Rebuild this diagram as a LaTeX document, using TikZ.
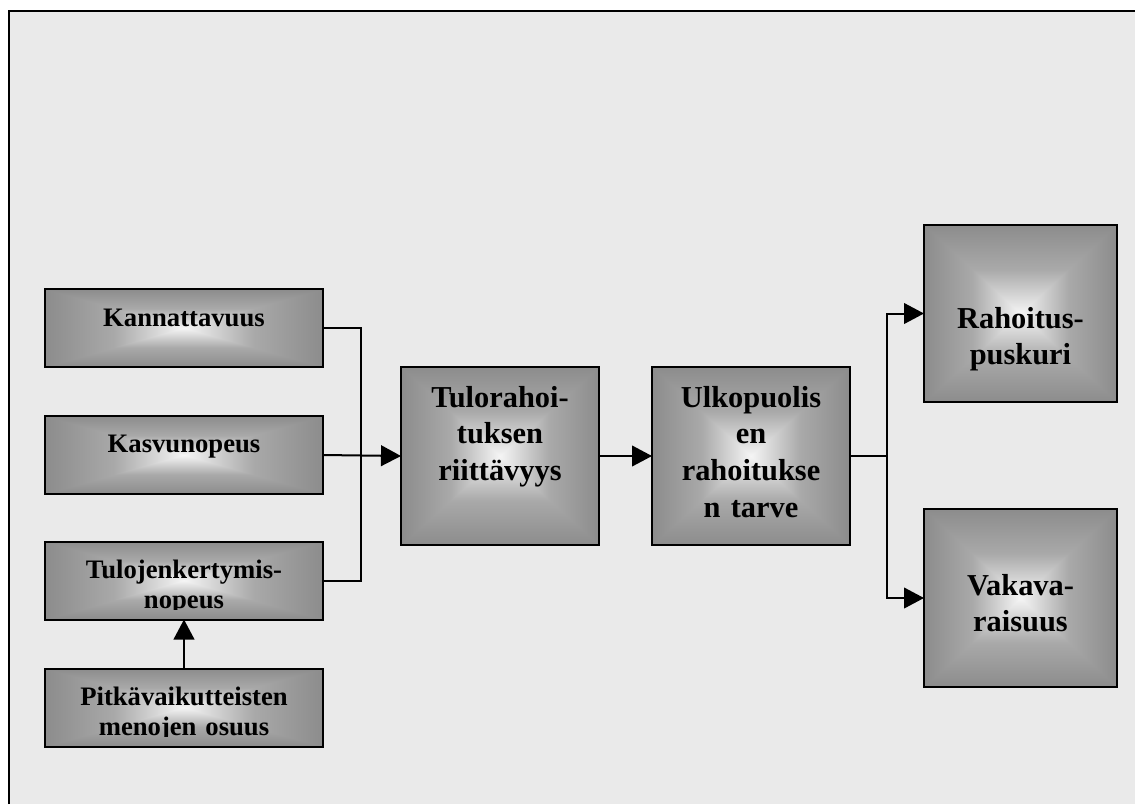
\documentclass[tikz,border=0pt]{standalone}
\usepackage{fontspec}
\setmainfont{Liberation Serif}
\usetikzlibrary{arrows.meta}

\definecolor{bgpanel}{HTML}{EAEAEA}
\definecolor{shedge}{HTML}{8C8C8C}
\definecolor{shmid}{HTML}{A9A9A9}
\definecolor{shctr}{HTML}{F5F5F5}

% left-to-right profile edge -> centre -> edge (path spans 25bp..75bp)
\pgfdeclarehorizontalshading{boxprofile}{100bp}{%
  color(0bp)=(shedge); color(25bp)=(shedge); color(37.5bp)=(shmid);
  color(50bp)=(shctr); color(62.5bp)=(shmid); color(75bp)=(shedge);
  color(100bp)=(shedge)}

\tikzset{
  boxshape/.style={rectangle, inner sep=0pt, outer sep=0pt},
  boxborder/.style={draw=black, line width=1.5pt},
  conn/.style={draw=black, line width=1.5pt},
  arr/.style={conn, -{Triangle[length=15pt,width=15.5pt]}},
  smalltxt/.style={font=\bfseries\fontsize{20pt}{22.5pt}\selectfont,
    align=center, inner sep=0pt, anchor=base, text width=206pt},
  bigtxt/.style={font=\bfseries\fontsize{22.8pt}{27.5pt}\selectfont,
    align=center, inner sep=0pt, anchor=base, text width=146pt},
}

% box with a rectangular "from centre" grey gradient: name, cx, cy, w, h (px)
\newcommand{\gradbox}[5]{%
  \path node[boxshape, minimum width=#4*0.75pt, minimum height=#5*0.75pt] (#1) at (#2,#3) {};
  % left and right quarters in one pass
  \shade[shading=boxprofile] (#1.north west) rectangle (#1.south east);
  % top and bottom quarters on top of it
  \shade[top color=shedge, bottom color=shctr, middle color=shmid]
    (#1.north west) -- (#1.north east) -- (#1.center) -- cycle;
  \shade[top color=shctr, bottom color=shedge, middle color=shmid]
    (#1.south west) -- (#1.south east) -- (#1.center) -- cycle;
  \draw[boxborder] (#1.north west) rectangle (#1.south east);
}

\begin{document}
\begin{tikzpicture}[x=0.75pt, y=-0.75pt]
  \useasboundingbox (0,0) rectangle (1135,804);

  % panel
  \fill[bgpanel] (9,11) rectangle (1135,804);
  \draw[line width=1.5pt] (9,804) -- (9,11) -- (1135,11);

  % factor boxes on the left
  \gradbox{kan}{184}{328}{278}{78}
  \gradbox{kas}{184}{455}{278}{78}
  \gradbox{tuk}{184}{580.5}{278}{78}
  \gradbox{pit}{184}{707.5}{278}{78}

  % main chain
  \gradbox{tulo}{500}{456}{198}{178}
  \gradbox{ulk}{751}{456}{198}{178}

  % outcomes
  \gradbox{rah}{1020.5}{313.5}{193}{177}
  \gradbox{vak}{1020.5}{598}{193}{178}

  % labels
  \node[smalltxt] (kantxt) at (184,326) {Kannattavuus};
  \node[smalltxt] (kastxt) at (184,452) {Kasvunopeus};
  \begin{scope}
    \clip (tuk.north west) rectangle ([yshift=7.5pt]tuk.south east);
    \node[smalltxt] (tuktxt) at (184,578) {Tulojenkertymis-\\nopeus};
  \end{scope}
  \begin{scope}
    \clip (pit.north west) rectangle ([yshift=7.5pt]pit.south east);
    \node[smalltxt] (pittxt) at (184,705) {Pitkävaikutteisten\\menojen osuus};
  \end{scope}
  \node[bigtxt] (tulotxt) at (500,407) {Tulorahoi-\\tuksen\\riittävyys};
  \node[bigtxt] (ulktxt) at (751,407) {Ulkopuolis\\en\\rahoitukse\\n tarve};
  \node[bigtxt] (rahtxt) at (1020.5,328) {Rahoitus-\\puskuri};
  \node[bigtxt] (vaktxt) at (1020.5,595) {Vakava-\\raisuus};

  % connectors
  \coordinate (jl) at (361,455);
  \coordinate (jr) at (887,456);
  \draw[conn] (kan.east) -| (jl) |- (tuk.east);
  \draw[arr] (kas.east) -- (tulo.west);
  \draw[arr] (pit.north) -- (tuk.south);
  \draw[arr] (tulo.east) -- (ulk.west);
  \draw[conn] (ulk.east) -- (jr);
  \draw[arr] (jr) |- (rah.west);
  \draw[arr] (jr) |- (vak.west);
\end{tikzpicture}
\end{document}
